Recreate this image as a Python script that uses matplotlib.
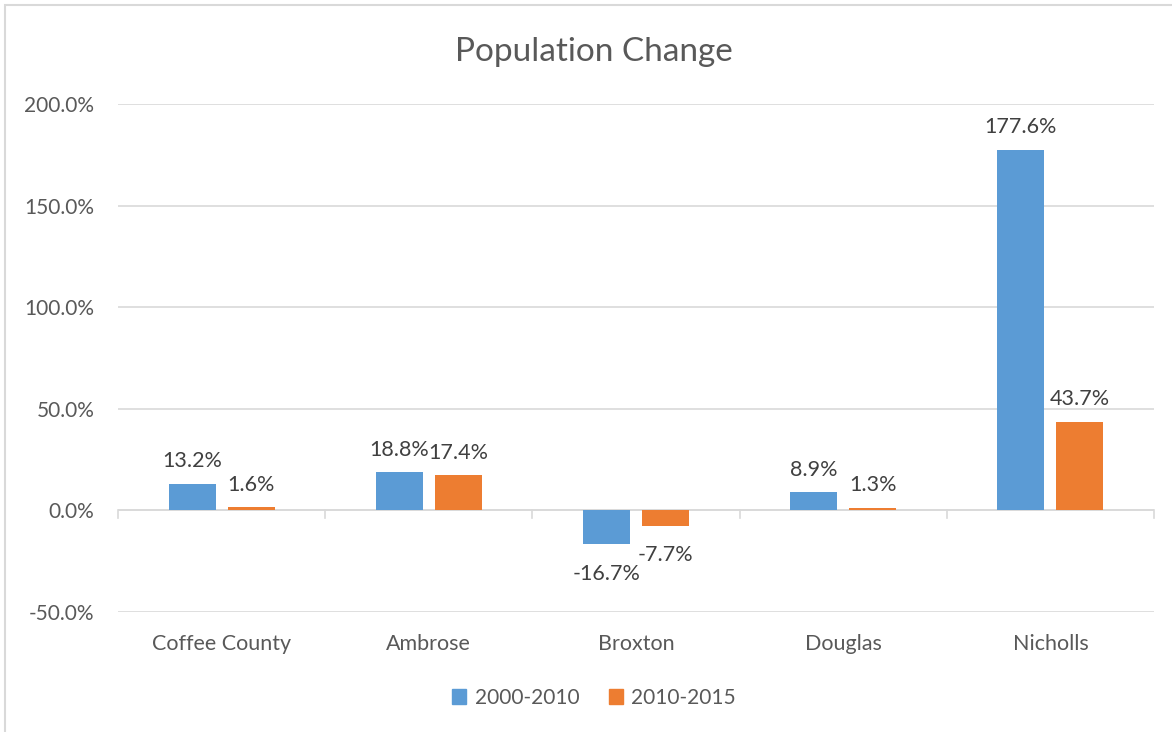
import numpy as np
import matplotlib.pyplot as plt
from matplotlib.patches import Rectangle, Patch
from matplotlib.ticker import FuncFormatter

plt.rcParams['font.family'] = ['Lato', 'DejaVu Sans']

places = ["Coffee County", "Ambrose", "Broxton", "Douglas", "Nicholls"]
series_names = ["2000-2010", "2010-2015"]
change_2000_2010 = [13.2, 18.8, -16.7, 8.9, 177.6]
change_2010_2015 = [1.6, 17.4, -7.7, 1.3, 43.7]
y_ticks = [-50, 0, 50, 100, 150, 200]

BLUE = "#5B9BD5"
ORANGE = "#ED7D31"
TEXT = "#595959"
LABEL = "#404040"
GRID = "#D9D9D9"

fig = plt.figure(figsize=(11.72, 7.32), dpi=100)
ax = fig.add_axes([118 / 1172, 1 - 612 / 732, (1154 - 118) / 1172, (612 - 104) / 732])

# chart border (only top and left show, the rest is cropped away)
fig.patches.append(Rectangle((5 / 1172, -0.1), 1.2, 1 - 5 / 732 + 0.1,
                             transform=fig.transFigure, fill=False,
                             edgecolor=GRID, linewidth=1.5))

x = np.arange(len(places))
width = 0.227
offset = 0.142
b1 = ax.bar(x - offset, change_2000_2010, width, color=BLUE, zorder=3)
b2 = ax.bar(x + offset, change_2010_2015, width, color=ORANGE, zorder=3)

for bars, vals in [(b1, change_2000_2010), (b2, change_2010_2015)]:
    for rect, v in zip(bars, vals):
        cx = rect.get_x() + rect.get_width() / 2
        if v >= 0:
            ax.annotate(f"{v:.1f}%", (cx, v), xytext=(0, 9),
                        textcoords="offset points", ha="center", va="bottom",
                        fontsize=15.5, color=LABEL)
        else:
            ax.annotate(f"{v:.1f}%", (cx, v), xytext=(0, -14),
                        textcoords="offset points", ha="center", va="top",
                        fontsize=15.5, color=LABEL)

ax.set_xlim(-0.5, len(places) - 0.5)
ax.set_ylim(-50, 200)
ax.set_yticks(y_ticks)
ax.yaxis.set_major_formatter(FuncFormatter(lambda v, p: f"{v:.1f}%"))
ax.grid(axis="y", color=GRID, linewidth=1.2, zorder=0)
for sp in ax.spines.values():
    sp.set_visible(False)
ax.tick_params(axis="y", length=0, pad=17, labelsize=15, labelcolor=TEXT)

ax.set_xticks(x)
ax.set_xticklabels(places)
ax.tick_params(axis="x", length=0, pad=16, labelsize=15.5, labelcolor=TEXT)

# zero baseline with category boundary ticks
ax.axhline(0, color=GRID, linewidth=1.2, zorder=2)
for b in np.arange(len(places) + 1) - 0.5:
    ax.plot([b, b], [0, -3.5], color=GRID, linewidth=1.2, zorder=2, clip_on=False)

fig.text(594 / 1172, 1 - 52 / 732, "Population Change", ha="center", va="center",
         fontsize=24, color=TEXT)

handles = [Patch(color=BLUE), Patch(color=ORANGE)]
fig.legend(handles, series_names, loc="center", bbox_to_anchor=(594 / 1172, 1 - 698 / 732),
           ncol=2, frameon=False, fontsize=15, labelcolor=TEXT,
           handlelength=0.7, handleheight=0.7, handletextpad=0.4, columnspacing=1.4)

fig.savefig("out.png", dpi=100, facecolor="white")
